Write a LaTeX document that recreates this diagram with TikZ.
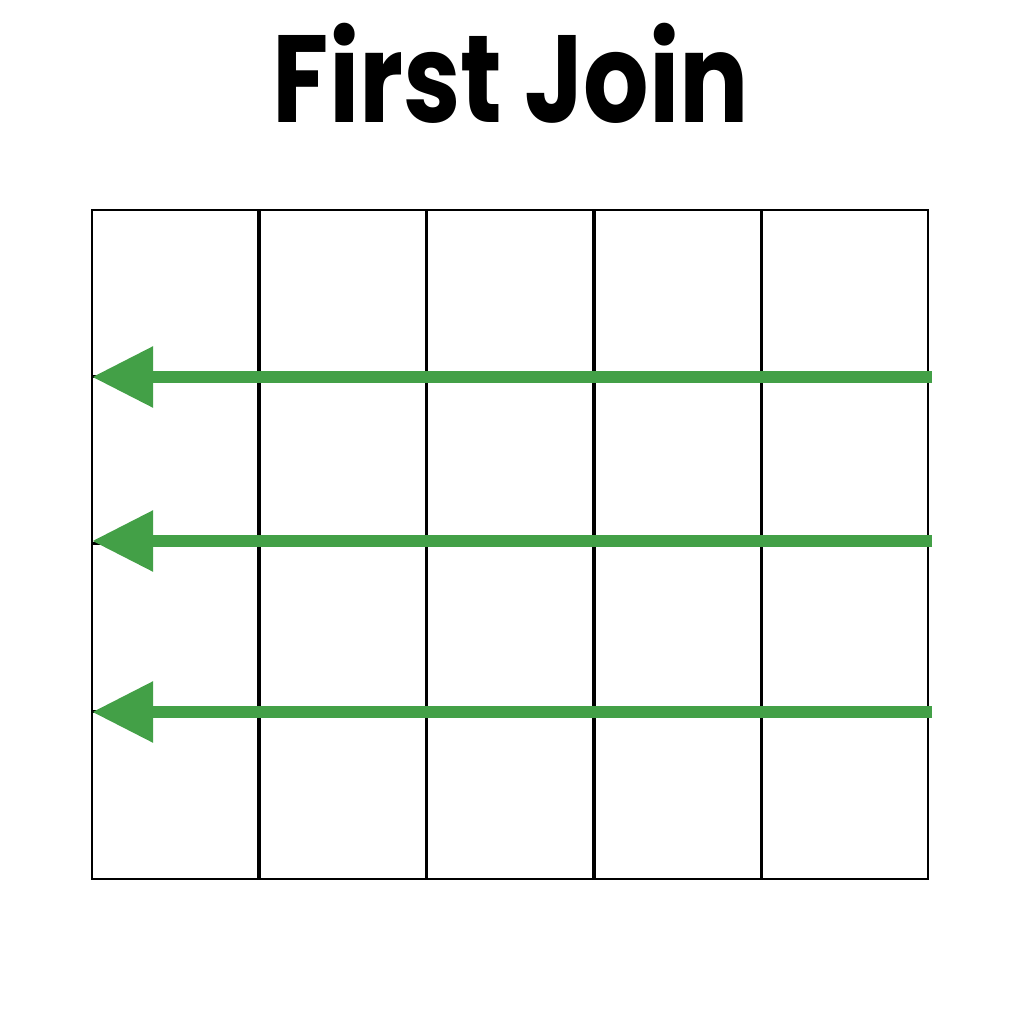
\documentclass[tikz,border=0pt]{standalone}
\usepackage{fontspec}
\usepackage{tikz}
\usetikzlibrary{arrows.meta}
\usetikzlibrary{calc}
\newfontfamily\titlefont[FakeStretch=0.83]{Poppins}
\definecolor{joingreen}{RGB}{67,160,71}
\tikzset{%
    cell/.style={
		draw, line width=2.6pt, minimum width=166pt, minimum height=167pt,
		inner sep=0pt, outer sep=0pt
	}
}
\tikzset{joinarrow/.style={joingreen, line width=12pt, -{Triangle[length=61pt,width=58pt]}}}

\begin{document}
\begin{tikzpicture}[x=1pt,y=-1pt]
		% Default action for each node
		\useasboundingbox (0,0) rectangle (1021,1024);

		\node[font=\titlefont\bfseries\fontsize{124}{124}\selectfont, anchor=base] (title) at (511,123) {First Join};

		% grid of cells, column i, row j
		\foreach \i/\x in {1/175,2/343,3/510,4/678,5/845}
			\foreach \j/\y in {1/293.5,2/460,3/627.5,4/795.5}
				\node[cell] (c\i\j) at (\x,\y) {};

		\coordinate (east1) at (932,377);	\coordinate (west1) at (92,377);
		\coordinate (east2) at (932,541);	\coordinate (west2) at (92,541);
		\coordinate (east3) at (932,712);	\coordinate (west3) at (92,712);

		\draw[joinarrow] (east1) -- (west1);
		\draw[joinarrow] (east2) -- (west2);
		\draw[joinarrow] (east3) -- (west3);
	\end{tikzpicture}
\end{document}
